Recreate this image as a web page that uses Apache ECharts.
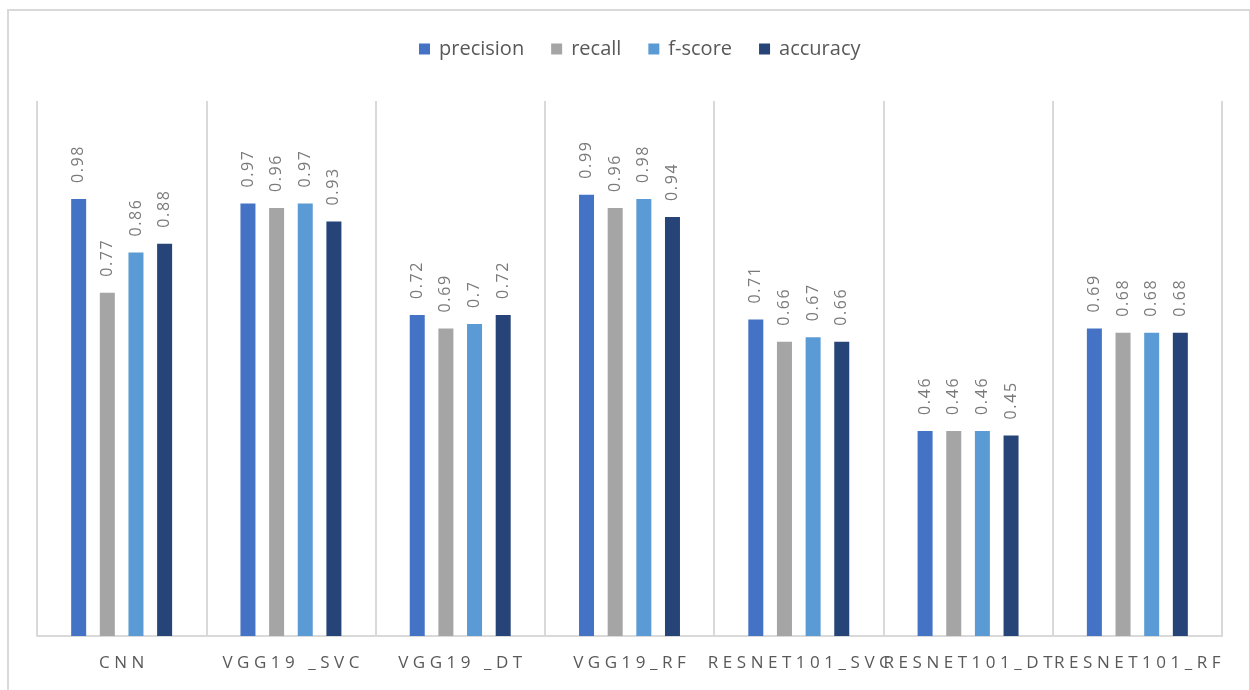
<!DOCTYPE html>
<html>
<head>
<meta charset="utf-8">
<script src="https://cdn.jsdelivr.net/npm/echarts@6/dist/echarts.min.js"></script>
<style>
  html, body { margin: 0; padding: 0; background: #ffffff; }
  #chart { width: 1250px; height: 690px; }
</style>
</head>
<body>
<div id="chart"></div>
<script>
// Model names along the x axis
const models = ['CNN', 'VGG19 _SVC', 'VGG19 _DT', 'VGG19_RF', 'RESNET101_SVC', 'RESNET101_DT', 'RESNET101_RF'];

// Metric values per model
const precision = [0.98, 0.97, 0.72, 0.99, 0.71, 0.46, 0.69];
const recall    = [0.77, 0.96, 0.69, 0.96, 0.66, 0.46, 0.68];
const fscore    = [0.86, 0.97, 0.70, 0.98, 0.67, 0.46, 0.68];
const accuracy  = [0.88, 0.93, 0.72, 0.94, 0.66, 0.45, 0.68];

const seriesNames = ['precision', 'recall', 'f-score', 'accuracy'];
const seriesColors = ['#4472C4', '#A5A5A5', '#5B9BD5', '#264478'];
const seriesData = [precision, recall, fscore, accuracy];

// widen glyph spacing the way the axis and value text is set
const spaced = (s, gap) => String(s).split('').join(gap);

const chart = echarts.init(document.getElementById('chart'), null, { renderer: 'canvas' });

chart.setOption({
  backgroundColor: '#ffffff',
  animation: false,
  graphic: [{
    type: 'rect',
    shape: { x: 8, y: 10, width: 1242, height: 700 },
    style: { fill: 'none', stroke: '#d9d9d9', lineWidth: 2 },
    silent: true
  }],
  legend: {
    top: 34,
    left: 414,
    itemWidth: 11,
    itemHeight: 11,
    itemGap: 27,
    icon: 'rect',
    textStyle: { fontFamily: 'Open Sans', fontSize: 20, color: '#595959', padding: [0, 0, 0, 4] },
    data: seriesNames
  },
  grid: { left: 37, right: 28, top: 101, bottom: 54 },
  xAxis: {
    type: 'category',
    data: models,
    axisTick: { show: false },
    axisLine: { lineStyle: { color: '#d9d9d9', width: 2 } },
    splitLine: { show: true, lineStyle: { color: '#d9d9d9', width: 2 } },
    axisLabel: {
      interval: 0,
      margin: 19,
      fontFamily: 'Open Sans',
      fontSize: 17,
      color: '#595959',
      formatter: v => spaced(v, '\u2009\u200A')
    }
  },
  yAxis: {
    type: 'value',
    min: 0,
    max: 1.2,
    show: false,
    splitLine: { show: false }
  },
  series: seriesNames.map((name, i) => ({
    name: name,
    type: 'bar',
    data: seriesData[i],
    barWidth: 15,
    barGap: '91%',
    itemStyle: { color: seriesColors[i] },
    label: {
      show: true,
      position: 'top',
      distance: 16,
      rotate: 90,
      align: 'left',
      verticalAlign: 'middle',
      fontFamily: 'Open Sans',
      fontSize: 16,
      color: '#7a7a7a',
      formatter: p => spaced(p.value, '\u200A')
    }
  }))
});
</script>
</body>
</html>
